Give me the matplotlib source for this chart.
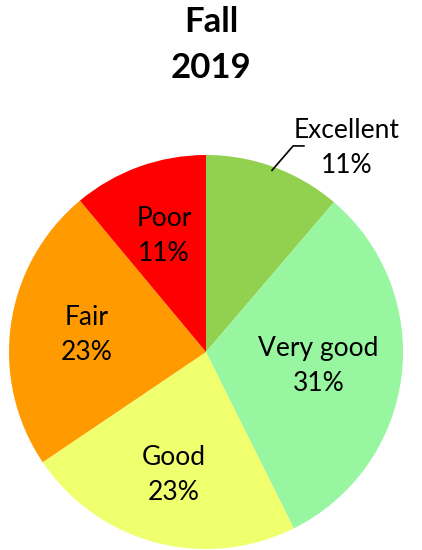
import numpy as np
import matplotlib
matplotlib.use("Agg")
import matplotlib.pyplot as plt

categories = ["Excellent", "Very good", "Good", "Fair", "Poor"]
values = [11.25, 31.4, 22.9, 23.4, 11.05]
pct_labels = ["11%", "31%", "23%", "23%", "11%"]
colors = ["#92D050", "#98F5A0", "#F0FF6E", "#FF9A00", "#FF0000"]
title = "Fall\n2019"

FONT = "Lato"
W, H = 422, 550
fig = plt.figure(figsize=(W / 100, H / 100), dpi=100)
cx, cy, R = 206, 352, 197
ax = fig.add_axes([(cx - R) / W, (H - cy - R) / H, 2 * R / W, 2 * R / H])

wedges, _ = ax.pie(values, colors=colors, startangle=90, counterclock=False,
                   radius=1.0, center=(0, 0), wedgeprops=dict(linewidth=0))
ax.set_xlim(-1, 1)
ax.set_ylim(-1, 1)
ax.set_aspect("equal")
ax.axis("off")
for w in wedges:
    w.set_clip_on(False)

label_r = [None, 0.575, 0.645, 0.61, 0.625]
for i, w in enumerate(wedges):
    txt = f"{categories[i]}\n{pct_labels[i]}"
    if label_r[i] is None:
        continue
    ang = np.deg2rad((w.theta1 + w.theta2) / 2)
    x, y = label_r[i] * np.cos(ang), label_r[i] * np.sin(ang)
    ax.text(x, y, txt, ha="center", va="center", fontsize=19,
            family=FONT, linespacing=1.5, clip_on=False)

# Excellent label outside with leader line
ax.plot([0.335, 0.442, 0.497], [0.922, 1.046, 1.046],
        color="black", lw=1.2, clip_on=False)
ax.text(0.716, 1.033, f"{categories[0]}\n{pct_labels[0]}", ha="center", va="center",
        fontsize=19, family=FONT, linespacing=1.5, clip_on=False)

fig.text(211 / W, 1 - 45 / H, title, ha="center", va="center", fontsize=25,
         fontweight="bold", family=FONT, linespacing=1.5)

fig.savefig("out.png", dpi=100)
